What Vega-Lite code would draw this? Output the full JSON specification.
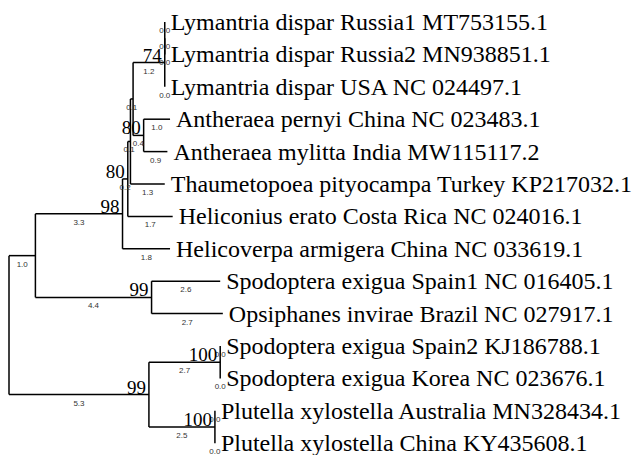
{
  "$schema": "https://vega.github.io/schema/vega-lite/v6.json",
  "width": 637,
  "height": 455,
  "padding": 0,
  "autosize": {"type": "none"},
  "background": "white",
  "config": {"view": {"stroke": null}},
  "data": {"values": [
    {"id": "root", "x1": 0, "y": 9.35546875, "ytop": 7.2109375, "ybot": 11.5},
    {"id": "A", "x0": 0, "x1": 1.0, "y": 7.2109375, "ytop": 5.921875, "ybot": 8.5, "len": "1.0"},
    {"id": "N98", "x0": 1.0, "x1": 4.3, "y": 5.921875, "ytop": 4.84375, "ybot": 7, "len": "3.3", "boot": "98"},
    {"id": "N80L", "x0": 4.3, "x1": 4.5, "y": 4.84375, "ytop": 3.6875, "ybot": 6, "len": "0.2", "boot": "80"},
    {"id": "Nb", "x0": 4.5, "x1": 4.6, "y": 3.6875, "ytop": 2.375, "ybot": 5, "len": "0.1"},
    {"id": "N80U", "x0": 4.6, "x1": 4.7, "y": 2.375, "ytop": 1.25, "ybot": 3.5, "len": "0.1"},
    {"id": "N74", "x0": 4.7, "x1": 5.9, "y": 1.25, "ytop": 0.5, "ybot": 2, "len": "1.2", "boot": "74"},
    {"id": "R12", "x0": 5.9, "x1": 5.9, "y": 0.5, "ytop": 0, "ybot": 1, "len": "0.0"},
    {"id": "L1", "x0": 5.9, "x1": 5.9, "y": 0, "len": "0.0", "name": "Lymantria dispar Russia1 MT753155.1"},
    {"id": "L2", "x0": 5.9, "x1": 5.9, "y": 1, "len": "0.0", "name": "Lymantria dispar Russia2 MN938851.1"},
    {"id": "L3", "x0": 5.9, "x1": 5.9, "y": 2, "len": "0.0", "name": "Lymantria dispar USA NC 024497.1"},
    {"id": "Anth", "x0": 4.7, "x1": 5.1, "y": 3.5, "ytop": 3, "ybot": 4, "len": "0.4", "boot": "80"},
    {"id": "L4", "x0": 5.1, "x1": 6.1, "y": 3, "len": "1.0", "name": "Antheraea pernyi China NC 023483.1"},
    {"id": "L5", "x0": 5.1, "x1": 6.0, "y": 4, "len": "0.9", "name": "Antheraea mylitta India MW115117.2"},
    {"id": "L6", "x0": 4.6, "x1": 5.9, "y": 5, "len": "1.3", "name": "Thaumetopoea pityocampa Turkey KP217032.1"},
    {"id": "L7", "x0": 4.5, "x1": 6.2, "y": 6, "len": "1.7", "name": "Heliconius erato Costa Rica NC 024016.1"},
    {"id": "L8", "x0": 4.3, "x1": 6.1, "y": 7, "len": "1.8", "name": "Helicoverpa armigera China NC 033619.1"},
    {"id": "N99U", "x0": 1.0, "x1": 5.4, "y": 8.5, "ytop": 8, "ybot": 9, "len": "4.4", "boot": "99"},
    {"id": "L9", "x0": 5.4, "x1": 8.0, "y": 8, "len": "2.6", "name": "Spodoptera exigua Spain1 NC 016405.1"},
    {"id": "L10", "x0": 5.4, "x1": 8.1, "y": 9, "len": "2.7", "name": "Opsiphanes invirae Brazil NC 027917.1"},
    {"id": "N99L", "x0": 0, "x1": 5.3, "y": 11.5, "ytop": 10.5, "ybot": 12.5, "len": "5.3", "boot": "99"},
    {"id": "N100a", "x0": 5.3, "x1": 8.0, "y": 10.5, "ytop": 10, "ybot": 11, "len": "2.7", "boot": "100"},
    {"id": "L11", "x0": 8.0, "x1": 8.0, "y": 10, "len": "0.0", "name": "Spodoptera exigua Spain2 KJ186788.1"},
    {"id": "L12", "x0": 8.0, "x1": 8.0, "y": 11, "len": "0.0", "name": "Spodoptera exigua Korea NC 023676.1"},
    {"id": "N100b", "x0": 5.3, "x1": 7.8, "y": 12.5, "ytop": 12, "ybot": 13, "len": "2.5", "boot": "100"},
    {"id": "L13", "x0": 7.8, "x1": 7.8, "y": 12, "len": "0.0", "name": "Plutella xylostella Australia MN328434.1"},
    {"id": "L14", "x0": 7.8, "x1": 7.8, "y": 13, "len": "0.0", "name": "Plutella xylostella China KY435608.1"}
  ]},
  "layer": [
    {
      "transform": [{"filter": "isValid(datum.x0)"}],
      "mark": {"type": "rule", "color": "black", "strokeWidth": 1.5, "clip": false},
      "encoding": {
        "x": {"field": "x0", "type": "quantitative", "scale": {"domain": [0, 10], "range": [9, 273], "nice": false, "zero": false}, "axis": null},
        "x2": {"field": "x1"},
        "y": {"field": "y", "type": "quantitative", "scale": {"domain": [0, 13], "range": [22, 443.2], "nice": false, "zero": false}, "axis": null}
      }
    },
    {
      "transform": [{"filter": "isValid(datum.ytop)"}],
      "mark": {"type": "rule", "color": "black", "strokeWidth": 1.5, "clip": false},
      "encoding": {
        "x": {"field": "x1", "type": "quantitative"},
        "y": {"field": "ytop", "type": "quantitative"},
        "y2": {"field": "ybot"}
      }
    },
    {
      "transform": [{"filter": "isValid(datum.len)"}, {"calculate": "(datum.x0 + datum.x1) / 2", "as": "mid"}],
      "mark": {"type": "text", "font": "Liberation Sans", "fontSize": 8, "color": "#333", "align": "center", "baseline": "middle", "dy": 9},
      "encoding": {
        "x": {"field": "mid", "type": "quantitative"},
        "y": {"field": "y", "type": "quantitative"},
        "text": {"field": "len"}
      }
    },
    {
      "transform": [{"filter": "isValid(datum.boot)"}],
      "mark": {"type": "text", "font": "Liberation Serif", "fontSize": 19, "color": "black", "align": "right", "baseline": "alphabetic", "dx": -3, "dy": -1},
      "encoding": {
        "x": {"field": "x1", "type": "quantitative"},
        "y": {"field": "y", "type": "quantitative"},
        "text": {"field": "boot"}
      }
    },
    {
      "transform": [{"filter": "isValid(datum.name)"}],
      "mark": {"type": "text", "font": "Liberation Serif", "fontSize": 24, "color": "black", "align": "left", "baseline": "middle", "dx": 6, "dy": 1},
      "encoding": {
        "x": {"field": "x1", "type": "quantitative"},
        "y": {"field": "y", "type": "quantitative"},
        "text": {"field": "name"}
      }
    }
  ]
}
